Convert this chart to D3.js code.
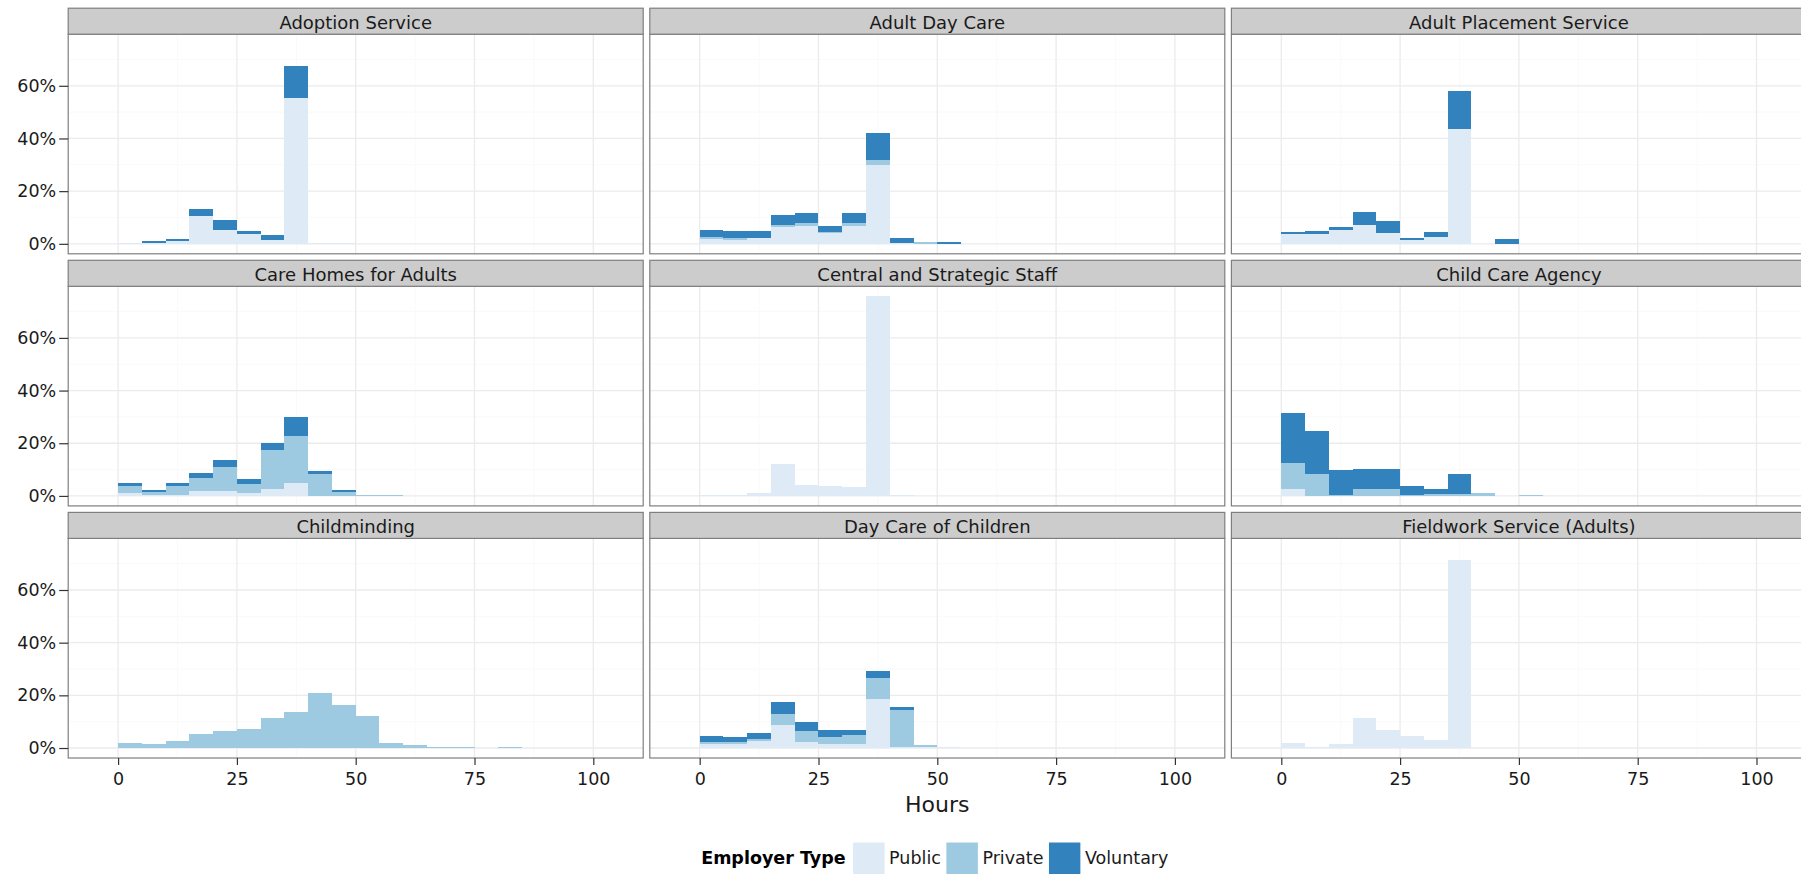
<!DOCTYPE html>
<html>
<head>
<meta charset="utf-8">
<script src="https://cdn.jsdelivr.net/npm/d3@7"></script>
<style>
  body { margin: 0; background: #fff; }
  svg { display: block; font-family: "DejaVu Sans", sans-serif; }
</style>
</head>
<body>
<svg id="chart" width="1801" height="874"></svg>
<script>
// Facets (service types), employer types and histogram bins (5-hour bins from 0)
const facets = [
  "Adoption Service", "Adult Day Care", "Adult Placement Service",
  "Care Homes for Adults", "Central and Strategic Staff", "Child Care Agency",
  "Childminding", "Day Care of Children", "Fieldwork Service (Adults)"
];
const employerTypes = ["Public", "Private", "Voluntary"];
const typeColors = ["#DEEBF7", "#9ECAE1", "#3182BD"];
const binStarts = [0, 5, 10, 15, 20, 25, 30, 35, 40, 45, 50, 55, 60, 65, 70, 75, 80];
const binWidth = 5;
const hoursRange = [-5, 105];
const xTicks = [0, 25, 50, 75, 100];
const xMinorTicks = [12.5, 37.5, 62.5, 87.5];
const yTicks = [0, 20, 40, 60];
const yMinorTicks = [10, 30, 50, 70];

// Share of staff (%) in each hours bin, by employer type
const adoptionPublic     = [0.5, 0.3, 1.1, 10.5, 5.2, 3.7, 1.4, 55.3, 0.5, 0.5, 0, 0, 0, 0, 0, 0, 0];
const adoptionPrivate    = [0, 0, 0, 0, 0, 0, 0, 0, 0, 0, 0, 0, 0, 0, 0, 0, 0];
const adoptionVoluntary  = [0, 0.9, 0.8, 2.7, 3.8, 1.1, 1.9, 12.2, 0, 0, 0, 0, 0, 0, 0, 0, 0];

const dayCarePublic      = [1.8, 1.4, 2.3, 6.3, 6.7, 4.1, 6.7, 29.9, 0.3, 0, 0, 0, 0, 0, 0, 0, 0];
const dayCarePrivate     = [0.8, 0.9, 0, 0.8, 1.3, 0.4, 1.3, 1.8, 0, 0.6, 0, 0, 0, 0, 0, 0, 0];
const dayCareVoluntary   = [2.7, 2.5, 2.5, 3.7, 3.7, 2.3, 3.7, 10.4, 1.9, 0, 0.6, 0, 0, 0, 0, 0, 0];

const placementPublic    = [3.7, 3.7, 5.2, 7.1, 4.1, 1.4, 2.5, 43.5, 0, 0, 0, 0, 0, 0, 0, 0, 0];
const placementPrivate   = [0, 0, 0, 0, 0, 0, 0, 0, 0, 0, 0, 0, 0, 0, 0, 0, 0];
const placementVoluntary = [0.7, 1.1, 1.1, 4.9, 4.5, 0.8, 1.9, 14.5, 0, 1.8, 0, 0, 0, 0, 0, 0, 0];

const careHomesPublic    = [1.0, 0.4, 0.3, 1.8, 1.8, 1.0, 2.5, 4.8, 0, 0, 0, 0, 0, 0, 0, 0, 0];
const careHomesPrivate   = [2.7, 1.0, 3.4, 4.9, 9.1, 3.4, 14.8, 17.8, 8.2, 1.4, 0.5, 0.5, 0, 0, 0, 0, 0];
const careHomesVoluntary = [1.1, 0.8, 1.1, 1.9, 2.7, 1.9, 2.7, 7.2, 1.1, 0.8, 0, 0, 0, 0, 0, 0, 0];

const centralPublic      = [0.5, 0.5, 1.0, 12.0, 4.1, 3.7, 3.3, 75.8, 0.5, 0, 0, 0, 0, 0, 0, 0, 0];
const centralPrivate     = [0, 0, 0, 0, 0, 0, 0, 0, 0, 0, 0, 0, 0, 0, 0, 0, 0];
const centralVoluntary   = [0, 0, 0, 0, 0, 0, 0, 0, 0, 0, 0, 0, 0, 0, 0, 0, 0];

const agencyPublic       = [2.5, 0, 0, 0, 0, 0, 0, 0, 0, 0, 0, 0, 0, 0, 0, 0, 0];
const agencyPrivate      = [9.9, 8.2, 0.2, 2.5, 2.5, 0.3, 0.6, 0.6, 1.0, 0, 0.5, 0, 0, 0, 0, 0, 0];
const agencyVoluntary    = [19.0, 16.3, 9.5, 7.6, 7.6, 3.4, 1.9, 7.6, 0, 0, 0, 0, 0, 0, 0, 0, 0];

const minderPublic       = [0, 0, 0, 0, 0, 0, 0, 0, 0, 0, 0, 0, 0, 0, 0, 0, 0];
const minderPrivate      = [1.9, 1.5, 2.7, 5.3, 6.5, 7.2, 11.4, 13.7, 20.9, 16.3, 12.2, 1.9, 1.1, 0.4, 0.4, 0, 0.4];
const minderVoluntary    = [0, 0, 0, 0, 0, 0, 0, 0, 0, 0, 0, 0, 0, 0, 0, 0, 0];

const childDayPublic     = [1.5, 1.5, 2.7, 8.7, 2.3, 1.5, 1.5, 18.6, 0.4, 0.3, 0.4, 0, 0, 0, 0, 0, 0];
const childDayPrivate    = [0.8, 0.8, 0.8, 4.2, 4.2, 2.7, 3.4, 8.0, 14.1, 0.8, 0, 0, 0, 0, 0, 0, 0];
const childDayVoluntary  = [2.3, 1.9, 2.3, 4.6, 3.4, 2.7, 1.9, 2.7, 1.1, 0, 0, 0, 0, 0, 0, 0, 0];

const fieldworkPublic    = [1.9, 0.4, 1.5, 11.4, 6.8, 4.6, 3.0, 71.4, 0, 0, 0, 0, 0, 0, 0, 0, 0];
const fieldworkPrivate   = [0, 0, 0, 0, 0, 0, 0, 0, 0, 0, 0, 0, 0, 0, 0, 0, 0];
const fieldworkVoluntary = [0, 0, 0, 0, 0, 0, 0, 0, 0, 0, 0, 0, 0, 0, 0, 0, 0];

const facetSeries = [
  [adoptionPublic, adoptionPrivate, adoptionVoluntary],
  [dayCarePublic, dayCarePrivate, dayCareVoluntary],
  [placementPublic, placementPrivate, placementVoluntary],
  [careHomesPublic, careHomesPrivate, careHomesVoluntary],
  [centralPublic, centralPrivate, centralVoluntary],
  [agencyPublic, agencyPrivate, agencyVoluntary],
  [minderPublic, minderPrivate, minderVoluntary],
  [childDayPublic, childDayPrivate, childDayVoluntary],
  [fieldworkPublic, fieldworkPrivate, fieldworkVoluntary]
];

// Layout
const ncol = 3;
const panelLeft = 68.2, panelTop0 = 34.2;
const panelW = 575, panelH = 219.6;
const colPitch = 581.6, rowPitch = 252.1;
const stripH = 26;
const textColor = "#1a1a1a";

const svg = d3.select("#chart");

// Rows of stacked data per facet
const facetRows = facetSeries.map(series =>
  binStarts.map((b, i) => {
    const row = { start: b };
    employerTypes.forEach((t, k) => { row[t] = series[k][i]; });
    return row;
  })
);
const stack = d3.stack().keys(employerTypes);
const stacked = facetRows.map(rows => stack(rows));

const maxTotal = d3.max(facetRows, rows => d3.max(rows, r => d3.sum(employerTypes, t => r[t])));
const yPad = maxTotal * 0.05;
const xPad = (hoursRange[1] - hoursRange[0]) * 0.05;

const x = d3.scaleLinear().domain([hoursRange[0] - xPad, hoursRange[1] + xPad]).range([0, panelW]);
const y = d3.scaleLinear().domain([-yPad, maxTotal + yPad]).range([panelH, 0]);
const color = d3.scaleOrdinal().domain(employerTypes).range(typeColors);

facets.forEach((name, fi) => {
  const col = fi % ncol, row = Math.floor(fi / ncol);
  const px = panelLeft + col * colPitch;
  const py = panelTop0 + row * rowPitch;
  const g = svg.append("g").attr("transform", `translate(${px},${py})`);

  // grid
  const grid = g.append("g");
  grid.selectAll(".ymin").data(yMinorTicks).join("line")
    .attr("x1", 0).attr("x2", panelW).attr("y1", d => y(d)).attr("y2", d => y(d))
    .attr("stroke", "#FAFAFA").attr("stroke-width", 1.1);
  grid.selectAll(".xmin").data(xMinorTicks).join("line")
    .attr("y1", 0).attr("y2", panelH).attr("x1", d => x(d)).attr("x2", d => x(d))
    .attr("stroke", "#FAFAFA").attr("stroke-width", 1.1);
  grid.selectAll(".ymaj").data(yTicks).join("line")
    .attr("x1", 0).attr("x2", panelW).attr("y1", d => y(d)).attr("y2", d => y(d))
    .attr("stroke", "#EBEBEB").attr("stroke-width", 1.3);
  grid.selectAll(".xmaj").data(xTicks).join("line")
    .attr("y1", 0).attr("y2", panelH).attr("x1", d => x(d)).attr("x2", d => x(d))
    .attr("stroke", "#EBEBEB").attr("stroke-width", 1.3);

  // stacked histogram bars
  g.append("g").attr("shape-rendering", "crispEdges")
    .selectAll("g").data(stacked[fi]).join("g")
    .attr("fill", d => color(d.key))
    .selectAll("rect").data(d => d.filter(s => s[1] - s[0] > 0)).join("rect")
    .attr("x", d => x(d.data.start))
    .attr("width", d => x(d.data.start + binWidth) - x(d.data.start))
    .attr("y", d => y(d[1]))
    .attr("height", d => y(d[0]) - y(d[1]));

  // panel border
  g.append("rect").attr("width", panelW).attr("height", panelH)
    .attr("fill", "none").attr("stroke", "#7F7F7F").attr("stroke-width", 1.2);

  // strip
  g.append("rect").attr("y", -stripH).attr("width", panelW).attr("height", stripH)
    .attr("fill", "#CCCCCC").attr("stroke", "#7F7F7F").attr("stroke-width", 1.2);
  g.append("text").attr("x", panelW / 2).attr("y", -stripH + 20.3)
    .attr("text-anchor", "middle").attr("font-size", 18).attr("fill", textColor)
    .text(name);

  // axes
  if (col === 0) {
    const ax = g.append("g").call(d3.axisLeft(y).tickValues(yTicks)
      .tickFormat(d => d + "%").tickSize(9).tickPadding(3));
    ax.select(".domain").remove();
    ax.selectAll("line").attr("stroke", "#333").attr("stroke-width", 1.2);
    ax.selectAll("text").attr("font-size", 17.5).attr("fill", textColor)
      .attr("font-family", "DejaVu Sans, sans-serif");
  }
  if (row === 2) {
    const ax = g.append("g").attr("transform", `translate(0,${panelH})`)
      .call(d3.axisBottom(x).tickValues(xTicks).tickSize(7).tickPadding(8));
    ax.select(".domain").remove();
    ax.selectAll("line").attr("stroke", "#333").attr("stroke-width", 1.2);
    ax.selectAll("text").attr("font-size", 17.5).attr("fill", textColor)
      .attr("font-family", "DejaVu Sans, sans-serif");
  }
});

// x-axis title
const plotCenter = panelLeft + (colPitch * (ncol - 1) + panelW) / 2;
svg.append("text").attr("x", plotCenter).attr("y", 812)
  .attr("text-anchor", "middle").attr("font-size", 22).attr("fill", textColor)
  .text("Hours");

// legend
const legend = svg.append("g");
const keySize = 32.5, legY = 842;
const title = legend.append("text").attr("x", 0).attr("y", legY + keySize / 2)
  .attr("dy", "0.35em").attr("font-size", 17.5).attr("font-weight", "bold")
  .attr("fill", "#000").text("Employer Type");
let cx = title.node().getComputedTextLength() + 7;
employerTypes.forEach((t, i) => {
  legend.append("rect").attr("x", cx).attr("y", legY)
    .attr("width", keySize).attr("height", keySize)
    .attr("fill", color(t)).attr("stroke", "#fff").attr("stroke-width", 1);
  cx += keySize + 4;
  const lbl = legend.append("text").attr("x", cx).attr("y", legY + keySize / 2)
    .attr("dy", "0.35em").attr("font-size", 17.5).attr("fill", textColor).text(t);
  cx += lbl.node().getComputedTextLength() + 5;
});
legend.attr("transform", `translate(${plotCenter - cx / 2},0)`);
</script>
</body>
</html>
